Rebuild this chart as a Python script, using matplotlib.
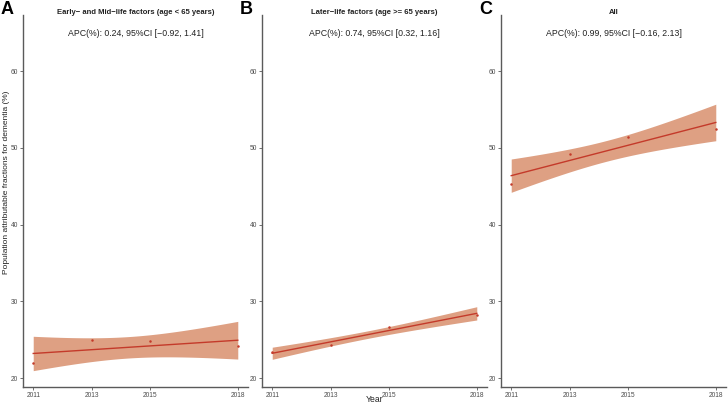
import numpy as np
import matplotlib
matplotlib.use("Agg")
import matplotlib.pyplot as plt

plt.rcParams['font.family'] = ['Liberation Sans', 'DejaVu Sans']

# data
years = [2011, 2013, 2015, 2018]
paf_early_mid = [22.0, 25.0, 24.8, 24.2]
paf_later = [23.34, 24.25, 26.7, 28.27]
paf_all = [45.3, 49.18, 51.43, 52.43]

panel_letters = ['A', 'B', 'C']
panel_titles = ['Early\u2212 and Mid\u2212life factors (age < 65 years)',
                'Later\u2212life factors (age >= 65 years)',
                'All']
apc_labels = ['APC(%): 0.24, 95%CI [\u22120.92, 1.41]',
              'APC(%): 0.74, 95%CI [0.32, 1.16]',
              'APC(%): 0.99, 95%CI [\u22120.16, 2.13]']
series = [paf_early_mid, paf_later, paf_all]

LINE = '#C43A2A'
FILL = '#DEA083'
AXC = '#5A5A5A'
TXT = '#4D4D4D'

W, H = 728, 405
fig = plt.figure(figsize=(W / 100, H / 100), dpi=100)
fig.patch.set_facecolor('white')

lefts = [23, 262, 501]
ax_w = 225
top_px, bot_px = 15, 387


def fit_band(x, y, xs):
    # straight line fit with a 95% band on the mean
    x = np.asarray(x, float)
    y = np.asarray(y, float)
    n = len(x)
    b, a = np.polyfit(x, y, 1)
    resid = y - (a + b * x)
    s = np.sqrt(np.sum(resid ** 2) / (n - 2))
    sxx = np.sum((x - x.mean()) ** 2)
    se = s * np.sqrt(1.0 / n + (xs - x.mean()) ** 2 / sxx)
    fit = a + b * xs
    return fit, fit - 1.96 * se, fit + 1.96 * se


for i in range(3):
    ax = fig.add_axes([lefts[i] / W, (H - bot_px) / H, ax_w / W, (bot_px - top_px) / H])
    xs = np.linspace(years[0], years[-1], 100)
    fit, lo, hi = fit_band(years, series[i], xs)
    ax.fill_between(xs, lo, hi, color=FILL, lw=0)
    ax.plot(xs, fit, color=LINE, lw=1.0)
    ax.plot(years, series[i], 'o', color=LINE, ms=1.8, mew=0)

    ax.set_xlim(2010.65, 2018.35)
    ax.set_ylim(18.83, 67.3)
    ax.set_xticks(years)
    ax.set_yticks([20, 30, 40, 50, 60])
    ax.tick_params(labelsize=4.8, colors=AXC, labelcolor=TXT, length=2, width=0.6, pad=1.5)
    for sp in ['top', 'right']:
        ax.spines[sp].set_visible(False)
    for sp in ['left', 'bottom']:
        ax.spines[sp].set_color(AXC)
        ax.spines[sp].set_linewidth(1.0)

    cx = lefts[i] + ax_w / 2
    fig.text(cx / W, 1 - 13 / H, panel_titles[i], ha='center', va='center',
             fontsize=5.5, fontweight='bold', color='#222222')
    fig.text(cx / W, 1 - 34 / H, apc_labels[i], ha='center', va='center',
             fontsize=6.35, color='#222222')
    fig.text((lefts[i] - 22) / W, 1 - 10 / H, panel_letters[i], ha='left', va='center',
             fontsize=13, fontweight='bold', color='black')

fig.text(7 / W, 1 - 182 / H, 'Population attributable fractions for dementia (%)',
         rotation=90, ha='center', va='center', fontsize=6.0, color='#222222')
fig.text((262 + ax_w / 2) / W, 1 - 399 / H, 'Year', ha='center', va='center',
         fontsize=6.2, color='#222222')

fig.savefig('out.png', dpi=100, facecolor='white')
